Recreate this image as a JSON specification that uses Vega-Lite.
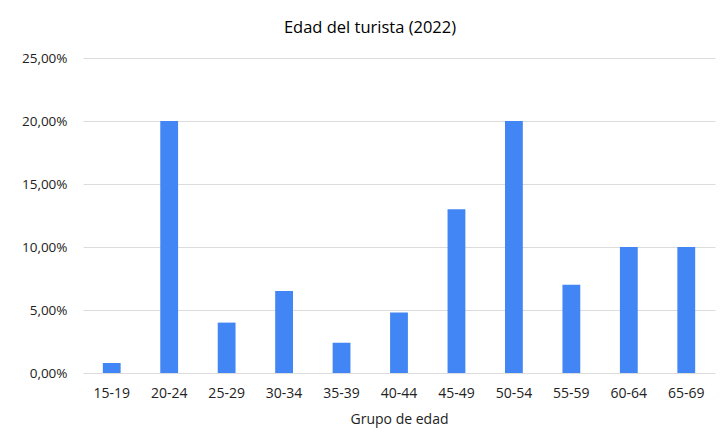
{
  "$schema": "https://vega.github.io/schema/vega-lite/v6.json",
  "width": 632,
  "height": 315,
  "autosize": {"type": "none"},
  "padding": {"left": 83, "top": 58, "right": 5, "bottom": 66},
  "background": "white",
  "config": {
    "locale": {"number": {"decimal": ",", "thousands": ".", "grouping": [3], "currency": ["", " €"]}},
    "view": {"stroke": null},
    "font": "Open Sans"
  },
  "title": {
    "text": "Edad del turista (2022)",
    "fontSize": 16.5,
    "fontWeight": "normal",
    "font": "Open Sans",
    "color": "#000000",
    "offset": 15,
    "dx": -29
  },
  "data": {
    "values": [
      {"grupo": "15-19", "pct": 0.008},
      {"grupo": "20-24", "pct": 0.20},
      {"grupo": "25-29", "pct": 0.04},
      {"grupo": "30-34", "pct": 0.065},
      {"grupo": "35-39", "pct": 0.024},
      {"grupo": "40-44", "pct": 0.048},
      {"grupo": "45-49", "pct": 0.13},
      {"grupo": "50-54", "pct": 0.20},
      {"grupo": "55-59", "pct": 0.07},
      {"grupo": "60-64", "pct": 0.10},
      {"grupo": "65-69", "pct": 0.10}
    ]
  },
  "mark": {"type": "bar", "color": "#4285F4"},
  "encoding": {
    "x": {
      "field": "grupo",
      "type": "nominal",
      "sort": null,
      "scale": {"paddingInner": 0.69, "paddingOuter": 0.345},
      "axis": {
        "title": "Grupo de edad",
        "titleFont": "Open Sans",
        "titleFontSize": 14,
        "titleFontWeight": "normal",
        "titleColor": "#222222",
        "titlePadding": 12,
        "labelAngle": 0,
        "labelFontSize": 14,
        "labelColor": "#222222",
        "labelPadding": 13,
        "ticks": false,
        "domain": false
      }
    },
    "y": {
      "field": "pct",
      "type": "quantitative",
      "scale": {"domain": [0, 0.25], "nice": false},
      "axis": {
        "title": null,
        "format": ".2%",
        "values": [0, 0.05, 0.10, 0.15, 0.20, 0.25],
        "labelFontSize": 13.5,
        "labelColor": "#222222",
        "labelPadding": 16,
        "ticks": false,
        "domain": false,
        "gridColor": "#dcdcdc",
        "gridWidth": 1
      }
    }
  }
}
